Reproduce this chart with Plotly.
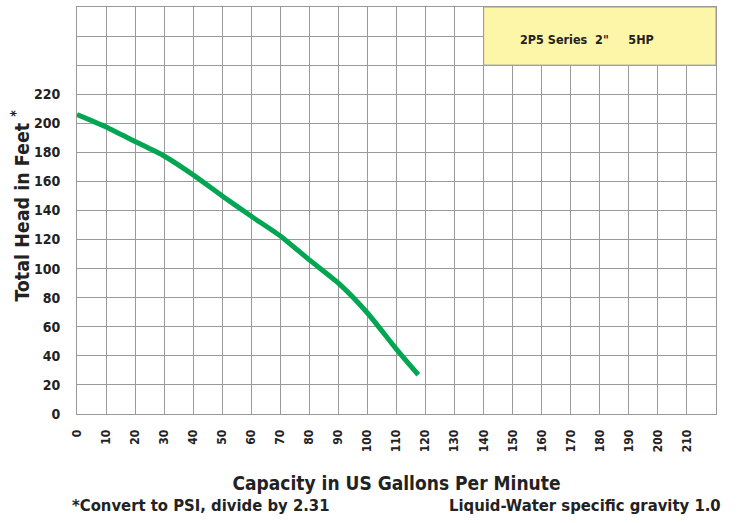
import plotly.graph_objects as go

flow_gpm = [0, 10, 20, 30, 40, 50, 60, 70, 80, 90, 100, 110, 117.5]
head_ft = [206, 197.5, 187.5, 177.5, 164.5, 150, 136, 122.5, 106, 90, 69.5, 44.5, 27]

x_ticks = list(range(0, 220, 10))
y_ticks = list(range(0, 240, 20))
title_text = '2P5 Series  2"     5HP'

FONT = "DejaVu Sans Condensed, DejaVu Sans, sans-serif"
GRID = "#9a9a9a"
INK = "#222222"

def f(size):
    return dict(family=FONT, size=size, color=INK, weight="bold")

fig = go.Figure()
fig.add_trace(go.Scatter(
    x=flow_gpm, y=head_ft, mode="lines",
    line=dict(color="#00a651", width=5, shape="spline", smoothing=0.6),
    hoverinfo="skip", showlegend=False,
))

fig.add_shape(type="rect", xref="x", yref="y", x0=140, x1=220, y0=240, y1=280,
              fillcolor="#fdf6a8", line=dict(color=GRID, width=1), layer="above")
fig.add_annotation(x=175.5, y=257.5, xref="x", yref="y", text=title_text,
                   showarrow=False, font=f(12.5))

fig.update_layout(
    width=740, height=523,
    margin=dict(l=77, r=24, t=7, b=109, autoexpand=False),
    paper_bgcolor="white", plot_bgcolor="white",
    font=dict(family=FONT, color=INK),
    showlegend=False,
)
fig.update_xaxes(
    range=[0, 220], tickvals=x_ticks,
    tickangle=-90, tickfont=f(12),
    showgrid=True, gridcolor=GRID, gridwidth=1,
    showline=True, linecolor=GRID, linewidth=1, mirror=True,
    zeroline=False, ticks="", ticklabelstandoff=10,
    title=dict(text="Capacity in US Gallons Per Minute", font=f(19), standoff=25),
)
fig.update_yaxes(
    range=[0, 280], tickvals=y_ticks,
    tickfont=f(14),
    showgrid=True, gridcolor=GRID, gridwidth=1,
    showline=True, linecolor=GRID, linewidth=1, mirror=True,
    zeroline=False, ticks="", ticklabelstandoff=13,
    minor=dict(tickvals=[240, 260], showgrid=True, gridcolor=GRID, gridwidth=1, ticks=""),
)

fig.add_annotation(xref="paper", yref="paper", x=-0.0892, y=0.512, xanchor="center", yanchor="middle",
                   textangle=-90, text="Total Head in Feet <sup>*</sup>", showarrow=False, font=f(19.5))
fig.add_annotation(xref="paper", yref="paper", x=-0.011, y=-0.226, xanchor="left", yanchor="middle",
                   text="*Convert to PSI, divide by 2.31", showarrow=False, font=f(16.5))
fig.add_annotation(xref="paper", yref="paper", x=1.011, y=-0.226, xanchor="right", yanchor="middle",
                   text="Liquid-Water specific gravity 1.0", showarrow=False, font=f(16.5))

fig.write_html("out.html", config={"displayModeBar": False},
               post_script="document.body.style.margin='0';document.body.style.overflow='hidden';")
